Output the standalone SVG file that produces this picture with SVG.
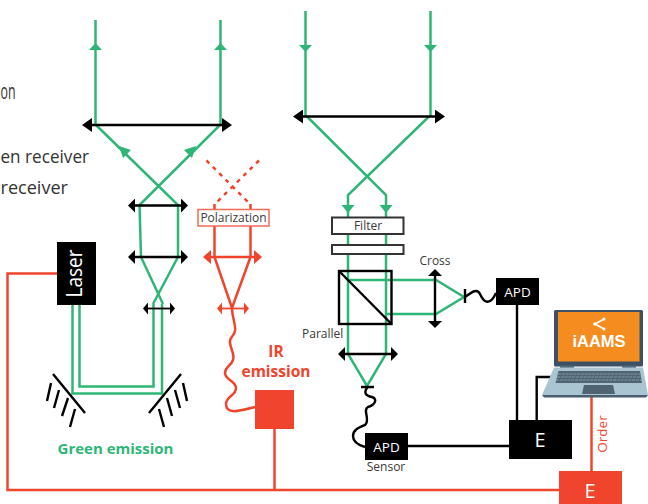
<svg xmlns="http://www.w3.org/2000/svg" width="648" height="504" viewBox="0 0 648 504">
<defs>
<marker id="bk" markerUnits="userSpaceOnUse" markerWidth="12" markerHeight="14" refX="2" refY="7" orient="auto-start-reverse"><path d="M0 0L10 7L0 14Z" fill="#000"/></marker>
<marker id="bm" markerUnits="userSpaceOnUse" markerWidth="9" markerHeight="14" refX="2" refY="7" orient="auto-start-reverse"><path d="M0 0L7 7L0 14Z" fill="#000"/></marker>
<marker id="bs" markerUnits="userSpaceOnUse" markerWidth="8" markerHeight="12" refX="2" refY="6" orient="auto-start-reverse"><path d="M0 0L5 6L0 12Z" fill="#000"/></marker>
<marker id="rk" markerUnits="userSpaceOnUse" markerWidth="10" markerHeight="14" refX="2" refY="7" orient="auto-start-reverse"><path d="M0 0L8 7L0 14Z" fill="#f0442c"/></marker>
<marker id="rs" markerUnits="userSpaceOnUse" markerWidth="8" markerHeight="12" refX="2" refY="6" orient="auto-start-reverse"><path d="M0 0L5 6L0 12Z" fill="#f0442c"/></marker>
</defs>
<style>
.g{fill:none;stroke:#2eb677;stroke-width:2.500}
.gf{fill:#2eb677}
.r{fill:none;stroke:#f0442c;stroke-width:2.500}
.k{fill:none;stroke:#000;stroke-width:2.400}
.lb{marker-start:url(#bk);marker-end:url(#bk);stroke:#000;stroke-width:2.400;fill:none}
.lm{marker-start:url(#bm);marker-end:url(#bm);stroke:#000;stroke-width:2.400;fill:none}
.ls{marker-start:url(#bs);marker-end:url(#bs);stroke:#000;stroke-width:1.800;fill:none}
.rb{marker-start:url(#rk);marker-end:url(#rk);stroke:#f0442c;stroke-width:2.400;fill:none}
.rl{marker-start:url(#rs);marker-end:url(#rs);stroke:#f0442c;stroke-width:1.800;fill:none}
text{font-family:"Open Sans","Noto Sans",sans-serif}
.t{fill:#3a3a3a;font-size:12px}
.w{fill:#fff;text-anchor:middle}
.leg{fill:#333;font-size:18px}
.b{font-weight:700;text-anchor:middle}
</style>
<g id="legend">
<text class="leg" x="0.500" y="99" style="font-size:21px" textLength="15" lengthAdjust="spacingAndGlyphs">on</text>
<text class="leg" x="0.500" y="163" textLength="88.500" lengthAdjust="spacingAndGlyphs">en receiver</text>
<text class="leg" x="0.500" y="194" textLength="67.500" lengthAdjust="spacingAndGlyphs">receiver</text>
</g>
<g id="connectors">
<path class="r" d="M57 273.500H7.500V490H559"/>
<path class="r" d="M274.500 429V490"/>
<path class="r" d="M591.500 397V471"/>
<path class="k" d="M517 305V420"/>
<path class="k" d="M408 446H509"/>
<path class="k" d="M536.700 420V377H551"/>
<path class="r" d="M232 308C232 318 236 324 235 331C234 337 229 337 230 343C231 350 235 355 233 360C231 366 225 367 225 373C225 380 236 381 236 388C236 396 226 396 226 404C226 416 243 410 255 407"/>
<path class="k" d="M465 297C472 292 477 288 480 294C484 303 490 306 496 293"/>
<path class="k" d="M367.700 387C363 393 366 396 372 397C378 399 375 405 368 407C362 410 371 420 365 425C358 428 353 430 353 436C353 442 358 445 365 447"/>
</g>
<g id="green-emission-optics">
<path class="g" d="M95.500 20V125M220.500 20V125"/>
<path class="gf" d="M95.500 43L102 50H89ZM220.500 43L227 50H214Z"/>
<path class="g" d="M96 125L178 205V257L153 304M220 125L139.500 205L141 257L163 304"/>
<path class="gf" d="M119 146L131 150L123 158ZM196 146L184 150L192 158Z"/>
<path class="g" d="M153.500 304V386.500H79.500V305M162 304V393.500H72.500V305"/>
<line class="lb" x1="90" y1="125" x2="224" y2="125"/>
<line class="lm" x1="133" y1="205.500" x2="183" y2="205.500"/>
<line class="lm" x1="133" y1="257" x2="183" y2="257"/>
<line class="ls" x1="146" y1="308.500" x2="172" y2="308.500"/>
</g>
<g id="laser"><rect x="57" y="242" width="39" height="63" fill="#000"/><text class="w" transform="translate(82 273.500) rotate(-90)" font-size="22" textLength="48" lengthAdjust="spacingAndGlyphs">Laser</text></g>
<g id="mirror-left" class="k"><path d="M53 374L85 413M51 383L47 401M59 390L54 408M68 398L62 416M75 409L70 427"/></g>
<g id="mirror-right" class="k"><path d="M181 374L149 413M183 383L187 401M175 390L180 408M167 398L172 416M159 409L164 427"/></g>
<g id="green-label"><text class="b" x="115.500" y="454" font-size="15" fill="#2eb677">Green emission</text></g>
<g id="ir-optics">
<path class="r" stroke-dasharray="4 5" d="M206.500 160.500L250 204M259 160.500L215 204"/>
<path class="r" d="M214.500 204V209M250.500 204V209M214.500 226V257L232 308L250.500 257V226"/>
<line class="rb" x1="209" y1="257" x2="256" y2="257"/>
<line class="rl" x1="220" y1="308.500" x2="246" y2="308.500"/>
</g>
<g id="polarization"><rect x="198" y="209.500" width="71" height="16.500" fill="#fff" stroke="#f4695a" stroke-width="1.500"/><text x="233.500" y="221.500" fill="#3a3a3a" font-size="12" text-anchor="middle">Polarization</text></g>
<g id="ir-source"><rect x="255" y="390" width="39" height="39" fill="#f0442c"/></g>
<g id="ir-label"><text class="b" x="276" y="357" font-size="15.500" fill="#f0442c">IR</text><text class="b" x="276" y="377" font-size="15.500" fill="#f0442c">emission</text></g>
<g id="receiver-optics">
<path class="g" d="M305.500 11V116M430.500 11V116"/>
<path class="gf" d="M305.500 52L299 45H312ZM430.500 52L424 45H437Z"/>
<path class="g" d="M307 116.500L386 195V354L367 386L348 354V195L429 116.500"/>
<path class="gf" d="M348 213L341.500 205H354.500ZM386 213L379.500 205H392.500Z"/>
<path class="g" d="M348 280H436L464 297L436 314H386"/>
<line class="lb" x1="301" y1="116.500" x2="437" y2="116.500"/>
<line class="lm" x1="343" y1="354" x2="393" y2="354"/>
<line class="lm" x1="435" y1="274" x2="435" y2="323"/>
<path class="k" d="M465 289V303M361 387H374"/>
</g>
<g id="filter"><rect x="332" y="217.500" width="71.500" height="16.500" fill="#fff" stroke="#333" stroke-width="2"/><text x="368" y="230" class="t" text-anchor="middle">Filter</text></g>
<g id="polarizer"><rect x="332" y="245" width="71.500" height="9" fill="#fff" stroke="#333" stroke-width="2"/></g>
<g id="splitter" class="k"><rect x="339" y="271" width="52.500" height="53"/><path d="M339 271L391.500 324"/></g>
<g id="apd-cross"><rect x="496" y="278" width="43" height="27" fill="#000"/><text class="w" x="517.500" y="296.500" font-size="13.500">APD</text></g>
<g id="apd-parallel"><rect x="365" y="433" width="43" height="27" fill="#000"/><text class="w" x="386.500" y="451.500" font-size="13.500">APD</text></g>
<g id="labels"><text class="t" x="435" y="265" text-anchor="middle">Cross</text><text class="t" x="302" y="338">Parallel</text><text class="t" x="386" y="471" text-anchor="middle">Sensor</text></g>
<g id="e-black"><rect x="509" y="420" width="63" height="39" fill="#000"/><text class="w" x="540" y="447" font-size="20">E</text></g>
<g id="e-red"><rect x="559" y="471" width="63" height="33" fill="#f0442c"/><text class="w" x="590" y="498" font-size="20">E</text></g>
<g id="order"><text transform="translate(607 434) rotate(-90)" font-size="13.500" fill="#f0442c" text-anchor="middle">Order</text></g>
<g id="laptop">
<rect x="554" y="310" width="89" height="56.500" rx="1.500" fill="#3d5166"/>
<rect x="558" y="312" width="81.500" height="49.500" fill="#f48c20"/>
<path d="M560 365.500H574V368H560ZM622 365.500H636V368H622Z" fill="#54697a"/>
<path d="M554 367.500H643L648 395H542Z" fill="#a8c5d1"/>
<path d="M542 395H648L646 397.500H544Z" fill="#4a5d6e"/>
<path d="M558.500 371H640L642 383H555.500Z" fill="#4f6373"/>
<path d="M558 374H640M557 377H641M556 380H642" stroke="#a8c5d1" stroke-width=".6" stroke-dasharray="3 .8" fill="none"/>
<path d="M584 385H613L615 394H582Z" fill="#4f6373"/>
<path d="M604 319L595 324L604 329" fill="none" stroke="#fff" stroke-width="1.500"/>
<circle cx="604" cy="319" r="1.500" fill="#fff"/><circle cx="595" cy="324" r="1.800" fill="#fff"/><circle cx="604" cy="329" r="1.500" fill="#fff"/>
<text x="599" y="347" font-size="16.500" fill="#fff" font-weight="700" text-anchor="middle" style="font-family:'Liberation Sans',sans-serif">iAAMS</text>
</g>
</svg>
